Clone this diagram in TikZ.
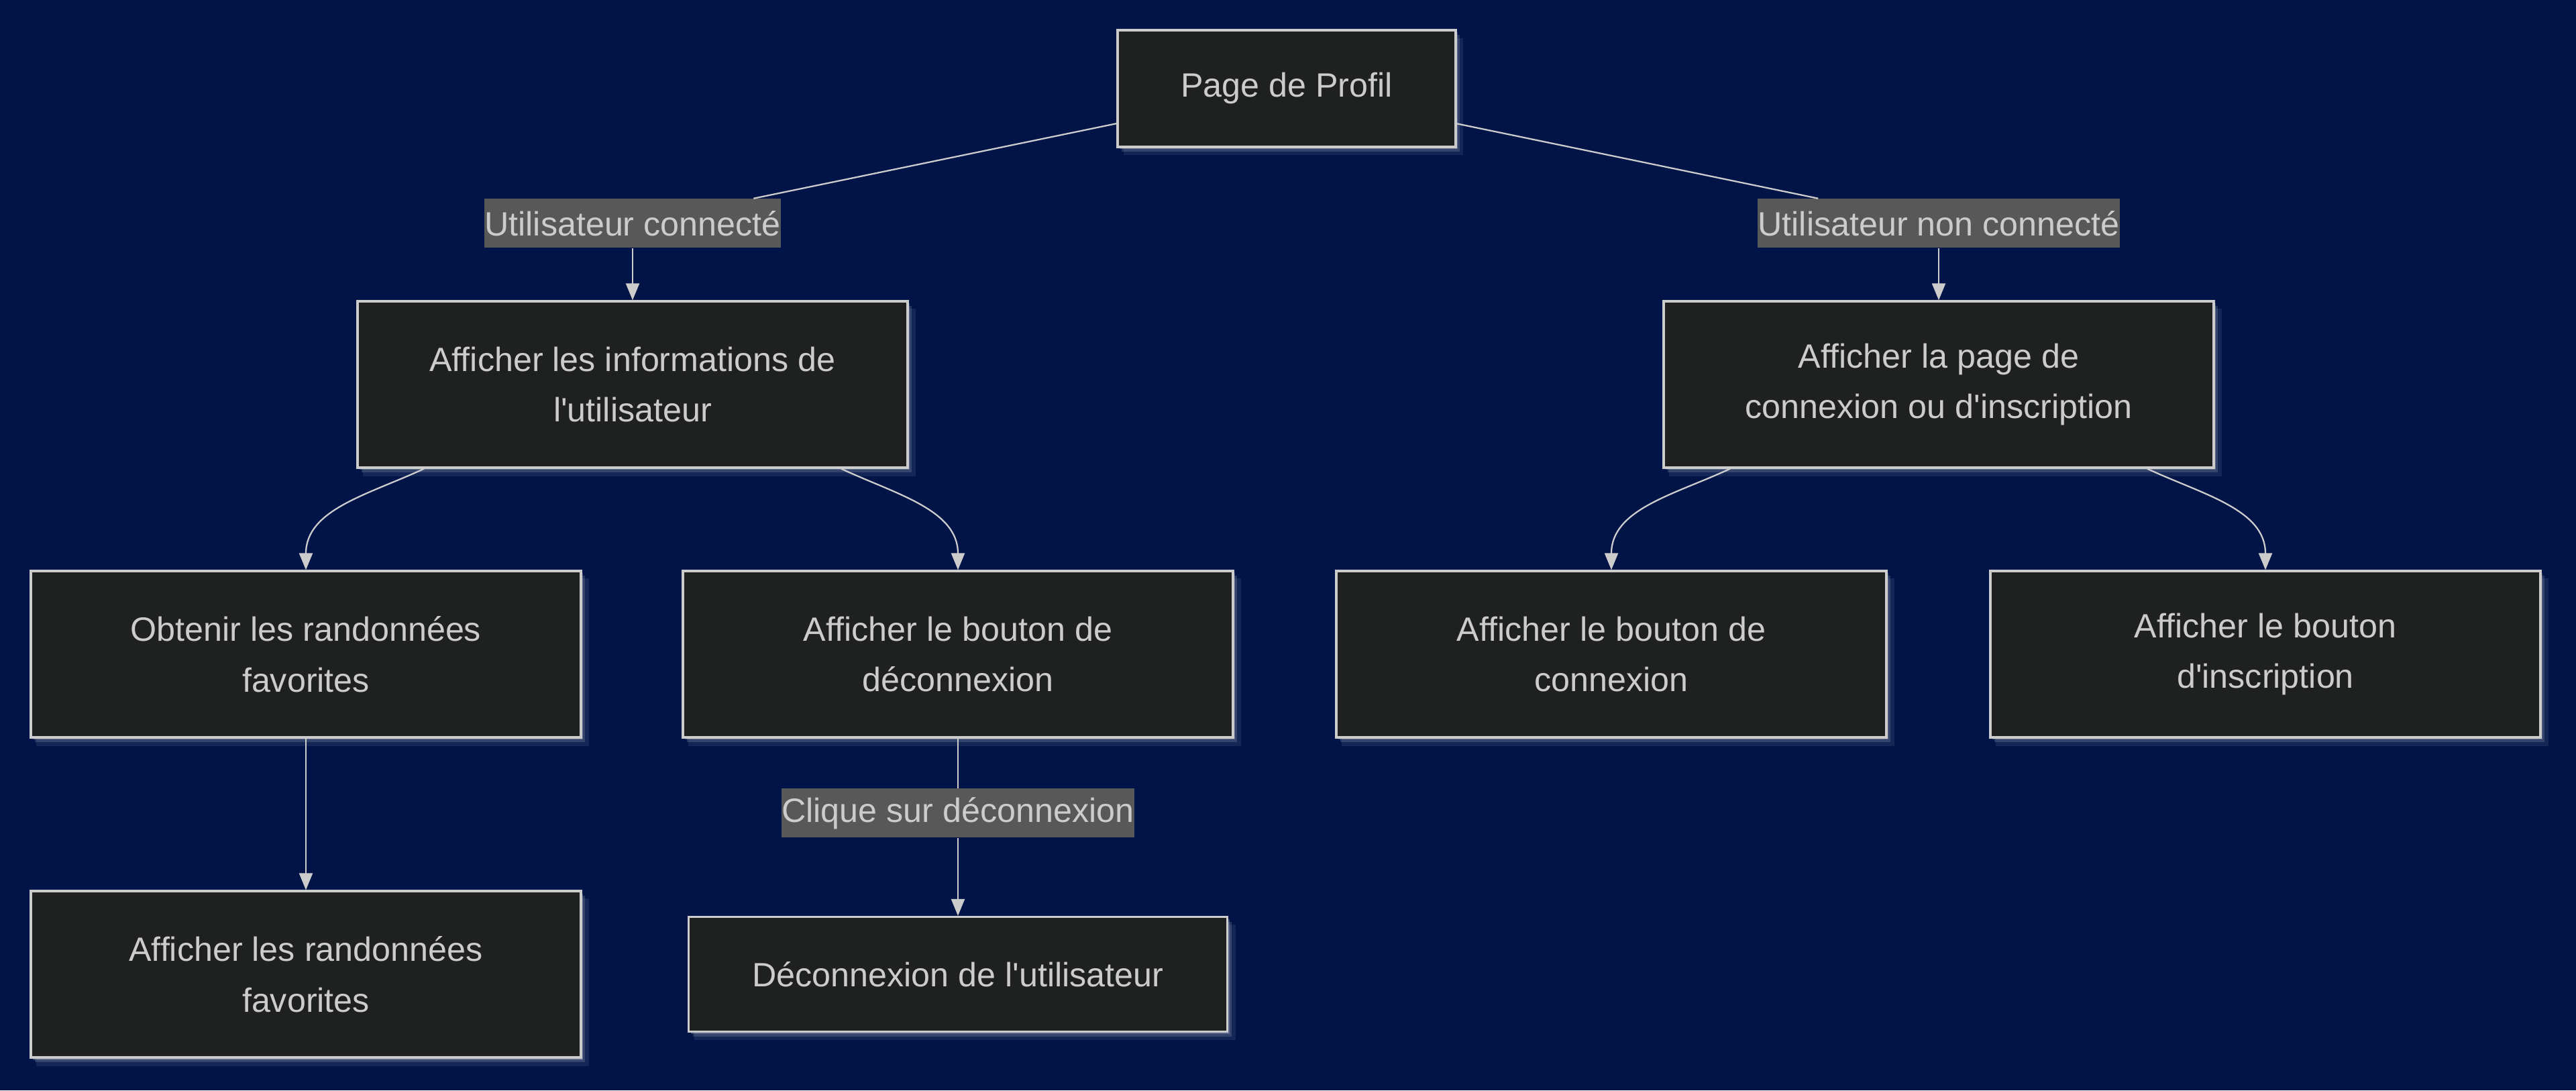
\documentclass[tikz,border=0pt]{standalone}
\usepackage{fontspec}
\setmainfont{Liberation Sans}[Ligatures=TeXOff]
\usetikzlibrary{arrows.meta,shadows}
\definecolor{bgnavy}{HTML}{001447}
\definecolor{boxfill}{HTML}{1F2020}
\definecolor{boxline}{HTML}{CCCCCC}
\definecolor{labfill}{HTML}{585858}
\definecolor{inktext}{HTML}{CCCCCC}
\begin{document}
\begin{tikzpicture}[
    box/.style={draw=boxline, line width=0.9pt, fill=boxfill, text=inktext, align=center,
      minimum width=8.2cm, minimum height=2.48cm, inner sep=0pt,
      font=\fontsize{14.3}{21.5}\selectfont,
      general shadow={fill=white, opacity=0.08, shadow xshift=1.0mm, shadow yshift=-1.2mm, shadow scale=1.005},
      general shadow={fill=white, opacity=0.14, shadow xshift=0.6mm, shadow yshift=-0.7mm},
      general shadow={fill=white, opacity=0.20, shadow xshift=0.3mm, shadow yshift=-0.35mm}},
    edgelab/.style={fill=labfill, text=inktext, inner sep=0pt, minimum height=0.73cm,
      font=\fontsize{14.3}{21.5}\selectfont},
    flow/.style={draw=boxline, line width=0.65pt},
    tip/.style={-{Triangle[width=0.2cm,length=0.25cm]}}]
  \fill[bgnavy] (0,0) rectangle (38.4,16.25);
  \useasboundingbox (0,0) rectangle (38.4,16.25);

  \node[box, minimum width=5.04cm, minimum height=1.74cm] (profil) at (19.18,14.93) {Page de Profil};
  \node[edgelab] (connecte) at (9.43,12.92) {Utilisateur connecté};
  \node[edgelab] (nonconnecte) at (28.90,12.92) {Utilisateur non connecté};
  \node[box] (infos) at (9.43,10.52) {Afficher les informations de\\l'utilisateur};
  \node[box] (pageconn) at (28.90,10.52) {Afficher la page de\\connexion ou d'inscription};
  \node[box] (obtenir) at (4.56,6.50) {Obtenir les randonnées\\favorites};
  \node[box] (btndeco) at (14.28,6.50) {Afficher le bouton de\\déconnexion};
  \node[box] (btnconn) at (24.02,6.50) {Afficher le bouton de\\connexion};
  \node[box] (btninsc) at (33.77,6.50) {Afficher le bouton\\d'inscription};
  \node[box] (favoris) at (4.56,1.73) {Afficher les randonnées\\favorites};
  \node[edgelab] (clique) at (14.28,4.13) {Clique sur déconnexion};
  \node[box, minimum width=8.03cm, minimum height=1.71cm] (deco) at (14.28,1.73) {Déconnexion de l'utilisateur};

  \begin{scope}[flow]
    \draw (profil) -- (connecte);
    \draw (profil) -- (nonconnecte);
    \draw[tip] (connecte.south) -- (infos.north);
    \draw[tip] (nonconnecte.south) -- (pageconn.north);
    \draw[tip] (infos.202) to[out=205,in=90] (obtenir.north);
    \draw[tip] (infos.338) to[out=-25,in=90] (btndeco.north);
    \draw[tip] (pageconn.202) to[out=205,in=90] (btnconn.north);
    \draw[tip] (pageconn.338) to[out=-25,in=90] (btninsc.north);
    \draw[tip] (obtenir.south) -- (favoris.north);
    \draw (btndeco.south) -- (clique.north);
    \draw[tip] (clique.south) -- (deco.north);
  \end{scope}
\end{tikzpicture}
\end{document}
